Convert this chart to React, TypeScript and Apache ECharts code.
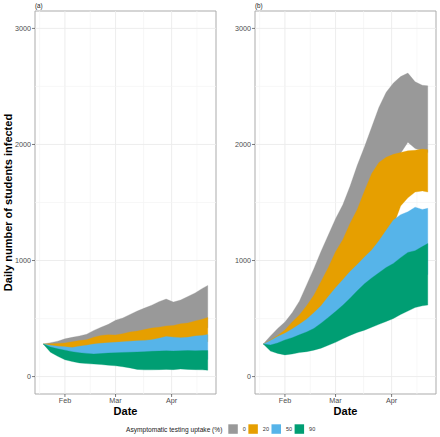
import React, { useEffect, useRef } from "react";
import * as echarts from "echarts";

// ---- data ----
const days = [19, 23, 27, 31, 35, 39, 43, 47, 51, 55, 59, 63, 67, 71, 75, 79, 83, 87, 91, 95, 99, 103, 107, 110];
const monthTickDays = [31, 59, 90];
const monthLabels = ["Feb", "Mar", "Apr"];
const minorDays = [17, 45, 74.5, 104];
const yMajor = [0, 1000, 2000, 3000];
const yMinor = [500, 1500, 2500];
const scenarios = ["0", "20", "50", "90"];
const panelLabels = ["(a)", "(b)"];

// panel (a)
const greyLoA = [281, 270, 265, 262, 268, 275, 282, 290, 300, 305, 305, 315, 325, 330, 340, 350, 355, 365, 370, 380, 385, 400, 410, 420];
const greyHiA = [281, 292, 305, 325, 338, 350, 365, 398, 425, 450, 485, 505, 535, 565, 590, 615, 645, 668, 642, 660, 690, 720, 760, 785];
const orangeLoA = [281, 262, 248, 238, 228, 232, 236, 240, 245, 248, 250, 252, 255, 258, 262, 265, 272, 280, 282, 280, 282, 290, 295, 300];
const orangeHiA = [281, 283, 285, 290, 300, 310, 318, 340, 355, 360, 358, 370, 385, 392, 405, 418, 425, 436, 440, 455, 462, 480, 495, 510];
const blueLoA = [281, 235, 215, 200, 185, 175, 168, 162, 160, 160, 158, 156, 155, 152, 150, 150, 150, 150, 148, 148, 150, 148, 148, 148];
const blueHiA = [281, 270, 262, 258, 250, 262, 270, 280, 287, 292, 295, 300, 305, 308, 312, 318, 330, 345, 340, 335, 338, 350, 355, 362];
const greenLoA = [281, 210, 175, 145, 130, 118, 112, 108, 104, 98, 93, 85, 75, 62, 58, 58, 60, 62, 60, 65, 62, 60, 58, 55];
const greenHiA = [281, 255, 240, 228, 215, 205, 200, 195, 198, 203, 205, 208, 210, 212, 215, 218, 220, 222, 220, 222, 225, 222, 224, 224];

// panel (b)
const greyLoB = [281, 300, 330, 370, 420, 470, 540, 610, 700, 800, 900, 1020, 1150, 1280, 1420, 1560, 1700, 1800, 1860, 1925, 2020, 1965, 1945, 1930];
const greyHiB = [281, 350, 415, 470, 550, 650, 790, 930, 1080, 1220, 1360, 1480, 1640, 1820, 1980, 2150, 2320, 2450, 2530, 2585, 2615, 2540, 2510, 2505];
const orangeLoB = [281, 290, 310, 330, 355, 380, 410, 450, 500, 560, 620, 680, 740, 800, 860, 930, 1010, 1120, 1300, 1470, 1540, 1590, 1600, 1590];
const orangeHiB = [281, 315, 355, 401, 470, 530, 610, 700, 820, 940, 1075, 1180, 1320, 1440, 1600, 1750, 1845, 1890, 1915, 1930, 1945, 1950, 1960, 1955];
const blueLoB = [281, 250, 245, 245, 250, 265, 280, 300, 325, 355, 390, 430, 470, 515, 560, 600, 640, 680, 720, 760, 800, 830, 860, 880];
const blueHiB = [281, 310, 345, 373, 410, 450, 495, 550, 610, 690, 765, 835, 905, 965, 1030, 1090, 1170, 1260, 1350, 1395, 1420, 1460, 1440, 1450];
const greenLoB = [281, 220, 200, 187, 195, 207, 215, 228, 245, 270, 295, 325, 355, 380, 400, 425, 450, 475, 500, 535, 565, 595, 610, 616];
const greenHiB = [281, 272, 290, 316, 335, 360, 385, 415, 460, 510, 560, 615, 675, 740, 800, 850, 895, 940, 975, 1025, 1070, 1085, 1120, 1147];

const panels = [
  { lo: [greyLoA, orangeLoA, blueLoA, greenLoA], hi: [greyHiA, orangeHiA, blueHiA, greenHiA] },
  { lo: [greyLoB, orangeLoB, blueLoB, greenLoB], hi: [greyHiB, orangeHiB, blueHiB, greenHiB] },
];

// ---- style ----
const COLORS = ["#999999", "#E69F00", "#56B4E9", "#009E73"];
const FONT = "'Liberation Sans', Arial, Helvetica, sans-serif";
const X_MIN = 14.45;
const X_MAX = 114.55;
const Y_MIN = -150;
const Y_MAX = 3150;
const GRID_LEFTS = [35, 255];
const GRID_W = 181;
const GRID_TOP = 11;
const GRID_H = 383;
const BORDER = "#ababab";
const TICK_COLOR = "#444444";
const LABEL_COLOR = "#4d4d4d";

export default function App() {
  const ref = useRef<HTMLDivElement>(null);

  useEffect(() => {
    if (!ref.current) return;
    const chart = echarts.init(ref.current, null, { renderer: "svg" });

    const grids = GRID_LEFTS.map((left) => ({
      left,
      top: GRID_TOP,
      width: GRID_W,
      height: GRID_H,
      show: true,
      borderColor: BORDER,
      borderWidth: 1,
      backgroundColor: "#ffffff",
    }));

    const hiddenAxis = {
      axisLine: { show: false },
      axisTick: { show: false },
      axisLabel: { show: false },
      splitLine: { show: false },
    };
    const xAxes = GRID_LEFTS.map((_, i) => ({ type: "value", gridIndex: i, min: X_MIN, max: X_MAX, ...hiddenAxis }));
    const yAxes = GRID_LEFTS.map((_, i) => ({ type: "value", gridIndex: i, min: Y_MIN, max: Y_MAX, ...hiddenAxis }));

    // grid lines: [x, y, kind]
    const gridLineData = [
      ...monthTickDays.map((d) => [d, 0, 0]),
      ...minorDays.map((d) => [d, 0, 1]),
      ...yMajor.map((v) => [X_MIN, v, 2]),
      ...yMinor.map((v) => [X_MIN, v, 3]),
    ];
    // axis ticks + labels: [x, y, kind, labelIndex]
    const tickData = [
      ...monthTickDays.map((d, i) => [d, Y_MIN, 0, i]),
      ...yMajor.map((v, i) => [X_MIN, v, 1, i]),
    ];

    const series: any[] = [];
    GRID_LEFTS.forEach((_, p) => {
      series.push({
        type: "custom",
        name: "grid" + p,
        xAxisIndex: p,
        yAxisIndex: p,
        silent: true,
        z: 1,
        data: gridLineData,
        encode: { x: 0, y: 1 },
        renderItem: (params: any, api: any) => {
          const cs = params.coordSys;
          const kind = api.value(2);
          const pt = api.coord([api.value(0), api.value(1)]);
          const major = kind === 0 || kind === 2;
          const shape =
            kind < 2
              ? { x1: pt[0], y1: cs.y, x2: pt[0], y2: cs.y + cs.height }
              : { x1: cs.x, y1: pt[1], x2: cs.x + cs.width, y2: pt[1] };
          return {
            type: "line",
            shape,
            style: { stroke: major ? "#ebebeb" : "#f4f4f4", lineWidth: major ? 0.9 : 0.7 },
            silent: true,
          };
        },
      });
      scenarios.forEach((name, s) => {
        const lo = panels[p].lo[s];
        const hi = panels[p].hi[s];
        const color = COLORS[s];
        series.push({
          type: "custom",
          name,
          xAxisIndex: p,
          yAxisIndex: p,
          z: 2,
          silent: true,
          itemStyle: { color },
          data: days.map((d, i) => [d, lo[i], hi[i]]),
          encode: { x: 0, y: [1, 2] },
          renderItem: (params: any, api: any) => {
            if (params.dataIndexInside !== 0) return null;
            const n = params.dataInsideLength;
            const top: number[][] = [];
            const bottom: number[][] = [];
            for (let i = 0; i < n; i++) {
              const x = api.value(0, i);
              top.push(api.coord([x, api.value(2, i)]));
              bottom.push(api.coord([x, api.value(1, i)]));
            }
            return {
              type: "polygon",
              shape: { points: top.concat(bottom.reverse()) },
              style: { fill: color, stroke: color, lineWidth: 0.3 },
              silent: true,
            };
          },
        });
      });
      series.push({
        type: "custom",
        name: "axis" + p,
        xAxisIndex: p,
        yAxisIndex: p,
        silent: true,
        clip: false,
        z: 3,
        data: tickData,
        encode: { x: 0, y: 1 },
        renderItem: (params: any, api: any) => {
          const kind = api.value(2);
          const idx = api.value(3);
          const pt = api.coord([api.value(0), api.value(1)]);
          if (kind === 0) {
            return {
              type: "group",
              children: [
                { type: "line", shape: { x1: pt[0], y1: pt[1], x2: pt[0], y2: pt[1] + 3 }, style: { stroke: TICK_COLOR, lineWidth: 0.7 } },
                {
                  type: "text",
                  x: pt[0],
                  y: pt[1] + 6.8,
                  style: { text: monthLabels[idx], fontSize: 7.2, lineHeight: 7.2, fill: LABEL_COLOR, fontFamily: FONT, align: "center", verticalAlign: "middle" },
                },
              ],
            };
          }
          return {
            type: "group",
            children: [
              { type: "line", shape: { x1: pt[0] - 3, y1: pt[1], x2: pt[0], y2: pt[1] }, style: { stroke: TICK_COLOR, lineWidth: 0.7 } },
              {
                type: "text",
                x: pt[0] - 4,
                y: pt[1],
                style: { text: String(yMajor[idx]), fontSize: 7.2, lineHeight: 7.2, fill: LABEL_COLOR, fontFamily: FONT, align: "right", verticalAlign: "middle" },
              },
            ],
          };
        },
      });
    });

    const texts: any[] = [];
    GRID_LEFTS.forEach((left, p) => {
      texts.push({
        type: "text",
        x: left,
        y: 5,
        style: { text: panelLabels[p], fontSize: 6.3, fill: "#222222", fontFamily: FONT, align: "left", verticalAlign: "middle" },
      });
      texts.push({
        type: "text",
        x: left + GRID_W / 2,
        y: 410.5,
        style: { text: "Date", fontSize: 11, lineHeight: 11, fontWeight: "bold", fill: "#000000", fontFamily: FONT, align: "center", verticalAlign: "middle" },
      });
    });
    texts.push({
      type: "text",
      x: 8,
      y: GRID_TOP + GRID_H / 2,
      rotation: Math.PI / 2,
      style: {
        text: "Daily number of students infected",
        fontSize: 11,
        fontWeight: "bold",
        fill: "#000000",
        fontFamily: FONT,
        align: "center",
        verticalAlign: "middle",
      },
    });
    texts.push({
      type: "text",
      x: 126,
      y: 429,
      style: {
        text: "Asymptomatic testing uptake (%)",
        fontSize: 6.6,
        fill: "#222222",
        fontFamily: FONT,
        align: "left",
        verticalAlign: "middle",
      },
    });

    chart.setOption({
      animation: false,
      backgroundColor: "#ffffff",
      grid: grids,
      xAxis: xAxes,
      yAxis: yAxes,
      legend: {
        data: scenarios.map((n) => ({ name: n, icon: "rect" })),
        left: 228.3,
        top: 424.3,
        orient: "horizontal",
        itemWidth: 9.5,
        itemHeight: 9.5,
        itemGap: 2.5,
        padding: 0,
        selectedMode: false,
        textStyle: { fontSize: 5.5, color: "#333333", fontFamily: FONT },
      },
      graphic: texts,
      series,
    });

    return () => chart.dispose();
  }, []);

  return (
    <div
      ref={ref}
      style={{ position: "fixed", left: 0, top: 0, width: 440, height: 437, background: "#fff" }}
    />
  );
}
